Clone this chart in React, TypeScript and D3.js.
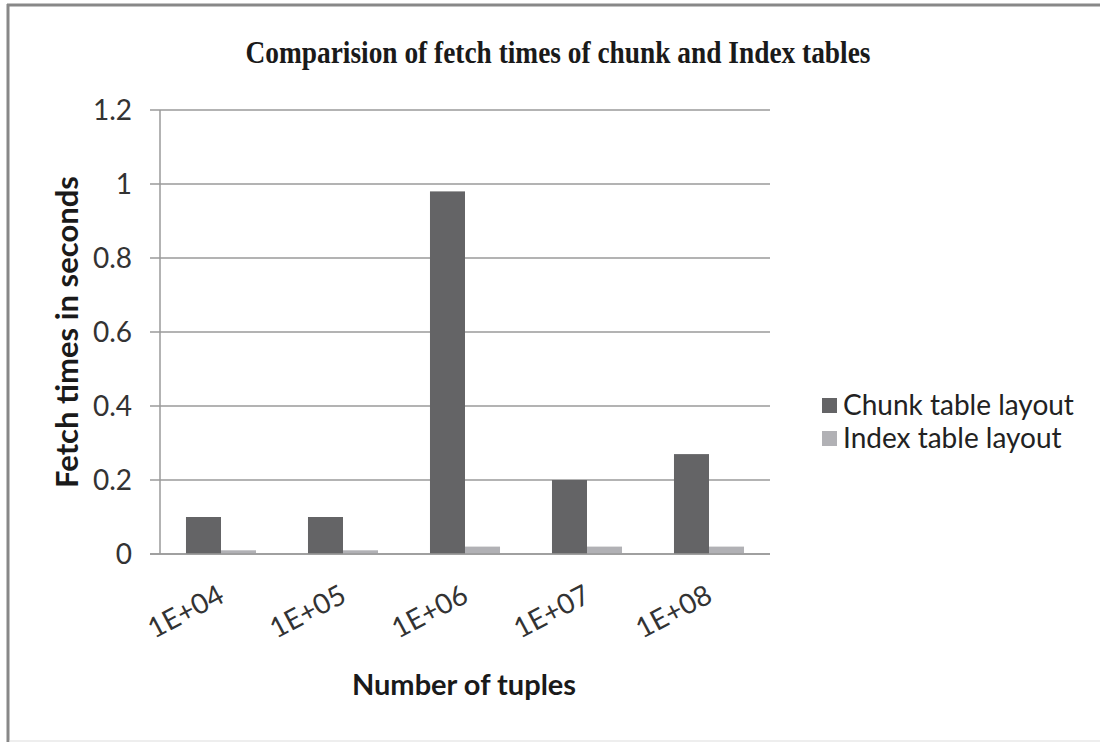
import React from "react";
import * as d3 from "d3";

const categories = ["1E+04", "1E+05", "1E+06", "1E+07", "1E+08"];
const chunkTimes = [0.1, 0.1, 0.98, 0.2, 0.27];
const indexTimes = [0.01, 0.01, 0.02, 0.02, 0.02];
const seriesNames = ["Chunk table layout", "Index table layout"];
const seriesColors = ["#646466", "#b1b1b5"];
const yTicks = [0, 0.2, 0.4, 0.6, 0.8, 1, 1.2];

const W = 1100;
const H = 742;
const plot = { left: 160, right: 770, top: 110, bottom: 554 };
const sansFont = "Lato, 'Open Sans', sans-serif";

export default function App() {
  const x = d3
    .scaleBand<string>()
    .domain(categories)
    .range([plot.left, plot.right])
    .paddingInner(0.426)
    .paddingOuter(0.213);
  const x1 = d3
    .scaleBand<number>()
    .domain([0, 1])
    .range([0, x.bandwidth()]);
  const y = d3.scaleLinear().domain([0, 1.2]).range([plot.bottom, plot.top]);
  const series = [chunkTimes, indexTimes];

  return (
    <svg
      width={W}
      height={H}
      style={{ position: "absolute", left: 0, top: 0, background: "#fff" }}
    >
      {/* frame */}
      <line x1={8} y1={4} x2={8} y2={H} stroke="#888" strokeWidth={3} />
      <line x1={7} y1={5} x2={W} y2={5} stroke="#888" strokeWidth={3} />
      <line x1={9} y1={741} x2={W} y2={741} stroke="#ddd" strokeWidth={1} />

      <text
        x={558}
        y={63}
        textAnchor="middle"
        fontFamily="'Liberation Serif', 'Times New Roman', serif"
        fontWeight="bold"
        fontSize={31}
        textLength={625}
        lengthAdjust="spacingAndGlyphs"
        fill="#1a1a1a"
      >
        Comparision of fetch times of chunk and Index tables
      </text>

      {/* gridlines and y ticks */}
      {yTicks.map((t) => (
        <g key={t}>
          <line
            x1={plot.left - 10}
            x2={plot.right}
            y1={y(t)}
            y2={y(t)}
            stroke="#9a9a9a"
            strokeWidth={1.5}
          />
          <text
            x={132}
            y={y(t) + 10}
            textAnchor="end"
            fontFamily={sansFont}
            fontSize={28}
            fill="#333"
          >
            {t}
          </text>
        </g>
      ))}
      <line
        x1={plot.left}
        x2={plot.left}
        y1={plot.top}
        y2={plot.bottom}
        stroke="#9a9a9a"
        strokeWidth={1.5}
      />

      {/* bars */}
      {categories.map((c, i) => (
        <g key={c} transform={`translate(${x(c)},0)`}>
          {series.map((s, k) => (
            <rect
              key={k}
              x={x1(k)}
              y={y(s[i])}
              width={x1.bandwidth()}
              height={plot.bottom - y(s[i])}
              fill={seriesColors[k]}
            />
          ))}
        </g>
      ))}
      <line
        x1={plot.left - 10}
        x2={plot.right}
        y1={plot.bottom}
        y2={plot.bottom}
        stroke="#9a9a9a"
        strokeWidth={1.5}
      />

      {/* category labels */}
      {categories.map((c) => {
        const cx = (x(c) ?? 0) + x.bandwidth() / 2;
        return (
          <text
            key={c}
            transform={`translate(${cx + 5},${601}) rotate(-28)`}
            textAnchor="end"
            fontFamily={sansFont}
            fontSize={28}
            fill="#333"
          >
            {c}
          </text>
        );
      })}

      {/* axis titles */}
      <text
        transform={`translate(78,${332}) rotate(-90)`}
        textAnchor="middle"
        fontFamily={sansFont}
        fontWeight="bold"
        fontSize={31}
        fill="#1a1a1a"
      >
        Fetch times in seconds
      </text>
      <text
        x={464}
        y={695}
        textAnchor="middle"
        fontFamily={sansFont}
        fontWeight="bold"
        fontSize={29}
        fill="#1a1a1a"
      >
        Number of tuples
      </text>

      {/* legend */}
      {seriesNames.map((n, k) => (
        <g key={n} transform={`translate(822,${405 + k * 33})`}>
          <rect x={0} y={-7} width={15} height={15} fill={seriesColors[k]} />
          <text
            x={21}
            y={10}
            fontFamily={sansFont}
            fontSize={28}
            fill="#222"
          >
            {n}
          </text>
        </g>
      ))}
    </svg>
  );
}
